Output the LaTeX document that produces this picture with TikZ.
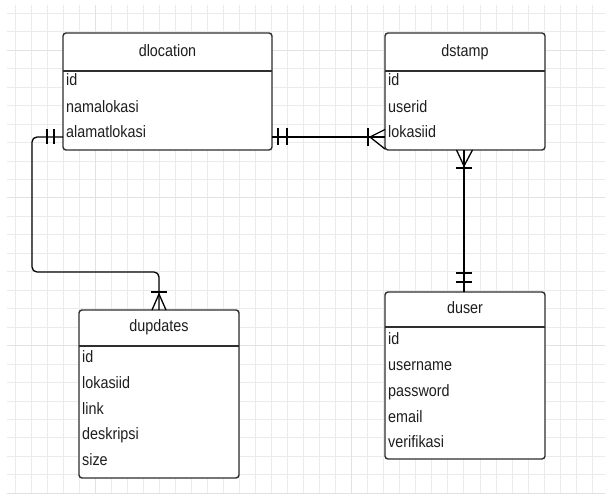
\documentclass[tikz,border=0pt]{standalone}
\usepackage{fontspec}
\setmainfont[FakeStretch=0.87]{Liberation Sans}
\usetikzlibrary{calc}
\definecolor{gridminor}{HTML}{EBEBEB}
\definecolor{gridmajor}{HTML}{E2E2E2}
\definecolor{boxline}{HTML}{2E2E2E}
\definecolor{txt}{HTML}{1E1E1E}
\begin{document}
\begin{tikzpicture}[x=1pt,y=-1pt,
  entity/.style={draw=boxline, line width=1.4pt, rounded corners=3pt, fill=white,
    anchor=north west, inner sep=0pt, outer sep=0pt},
  sep/.style={draw=boxline, line width=1.4pt},
  title/.style={anchor=base, inner sep=0pt, text=txt, font=\fontsize{16.5}{18}\selectfont},
  attr/.style={anchor=base west, inner sep=0pt, xshift=3pt, text=txt, font=\fontsize{16.5}{18}\selectfont},
  rel/.style={draw=black, line width=1.3pt}
]
% page and grid paper
\fill[white] (0,0) rectangle (605,497);
\useasboundingbox (0,0) rectangle (605,497);
\foreach \i in {0,...,36} {
  \draw[gridminor, line width=0.9pt] ({15.1+16.03*\i},5) -- ({15.1+16.03*\i},493.3);
}
\foreach \j in {0,...,26} {
  \draw[gridminor, line width=0.9pt] (7,{493.3-18.46*\j}) -- (605,{493.3-18.46*\j});
}
\foreach \i in {5,21} {
  \draw[gridmajor, line width=0.9pt] ({15.1+16.03*\i},5) -- ({15.1+16.03*\i},493.3);
}
\foreach \j in {0,8,16,24} {
  \draw[gridmajor, line width=0.9pt] (7,{493.3-18.46*\j}) -- (605,{493.3-18.46*\j});
}

% entities
\node[entity, minimum width=209pt, minimum height=117pt] (dloc) at (63,33) {};
\node[entity, minimum width=160pt, minimum height=117pt] (stamp) at (385,33) {};
\node[entity, minimum width=160pt, minimum height=167pt] (user) at (385,292) {};
\node[entity, minimum width=160pt, minimum height=168pt] (upd) at (79,310) {};

% header separators
\draw[sep] (dloc.west |- 0,71) -- (dloc.east |- 0,71);
\draw[sep] (stamp.west |- 0,71) -- (stamp.east |- 0,71);
\draw[sep] (user.west |- 0,327) -- (user.east |- 0,327);
\draw[sep] (upd.west |- 0,346) -- (upd.east |- 0,346);

% dlocation
\node[title] (dlocT) at (dloc.north |- 0,57) {dlocation};
\node[attr] (dloc1) at (dloc.west |- 0,86) {id};
\node[attr] (dloc2) at (dloc.west |- 0,113) {namalokasi};
\node[attr] (dloc3) at (dloc.west |- 0,138) {alamatlokasi};

% dstamp
\node[title] (stampT) at (stamp.north |- 0,57) {dstamp};
\node[attr] (stamp1) at (stamp.west |- 0,86) {id};
\node[attr] (stamp2) at (stamp.west |- 0,113) {userid};
\node[attr] (stamp3) at (stamp.west |- 0,138) {lokasiid};

% duser
\node[title] (userT) at (user.north |- 0,313) {duser};
\node[attr] (user1) at (user.west |- 0,344) {id};
\node[attr] (user2) at (user.west |- 0,370) {username};
\node[attr] (user3) at (user.west |- 0,396) {password};
\node[attr] (user4) at (user.west |- 0,422) {email};
\node[attr] (user5) at (user.west |- 0,447) {verifikasi};

% dupdates
\node[title] (updT) at (upd.north |- 0,331) {dupdates};
\node[attr] (upd1) at (upd.west |- 0,362) {id};
\node[attr] (upd2) at (upd.west |- 0,388) {lokasiid};
\node[attr] (upd3) at (upd.west |- 0,414) {link};
\node[attr] (upd4) at (upd.west |- 0,439) {deskripsi};
\node[attr] (upd5) at (upd.west |- 0,465) {size};

% dlocation -- dstamp (one to many)
\coordinate (r1a) at (dloc.east |- 0,137);
\coordinate (r1b) at (stamp.west |- 0,137);
\draw[rel] (r1a) -- (r1b);
\draw[rel] ([xshift=6pt]r1a) ++(0,-8.5) -- ++(0,17);
\draw[rel] ([xshift=15pt]r1a) ++(0,-8.5) -- ++(0,17);
\draw[rel] ([xshift=-17pt]r1b) ++(0,-9) -- ++(0,18);
\draw[rel] ([shift={(0,-7.5)}]r1b) -- ([xshift=-15pt]r1b) -- ([shift={(0,12)}]r1b);

% dstamp -- duser (many to one)
\coordinate (r2a) at (464,150);
\coordinate (r2b) at (user.north -| r2a);
\draw[rel] (r2a) -- (r2b);
\draw[rel] ([yshift=-18pt]r2a) ++(-8,0) -- ++(16,0);
\draw[rel] ([xshift=-7.5pt]r2a) -- ([yshift=-16pt]r2a) -- ([xshift=8.5pt]r2a);
\draw[rel] ([yshift=19pt]r2b) ++(-8,0) -- ++(16,0);
\draw[rel] ([yshift=10pt]r2b) ++(-8,0) -- ++(16,0);

% dlocation -- dupdates (one to many)
\coordinate (r3a) at (dloc.west |- 0,137);
\coordinate (r3b) at (upd.north);
\coordinate (r3bend) at (32,272);
\draw[rel, rounded corners=5pt] (r3a) -| (r3bend) -| (r3b);
\draw[rel] ([xshift=-16pt]r3a) ++(0,-7.5) -- ++(0,15);
\draw[rel] ([xshift=-9pt]r3a) ++(0,-7.5) -- ++(0,15);
\draw[rel] ([yshift=18pt]r3b) ++(-8,0) -- ++(16,0);
\draw[rel] ([xshift=-7pt]r3b) -- ([yshift=16pt]r3b) -- ([xshift=7pt]r3b);
\end{tikzpicture}
\end{document}
